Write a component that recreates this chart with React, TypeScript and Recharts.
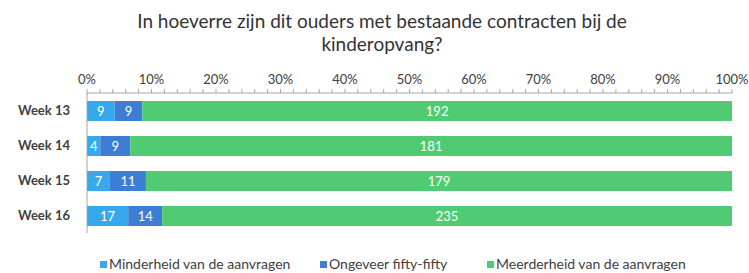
import { BarChart, Bar, XAxis, YAxis, LabelList } from 'recharts';

const WEEKS = ['Week 13', 'Week 14', 'Week 15', 'Week 16'];
const MINDERHEID = [9, 4, 7, 17];
const FIFTY = [9, 9, 11, 14];
const MEERDERHEID = [192, 181, 179, 235];

const SERIES = [
  { key: 'minderheid', name: 'Minderheid van de aanvragen', color: '#35a9ec', left: 100 },
  { key: 'fifty', name: 'Ongeveer fifty-fifty', color: '#3d7dd3', left: 320 },
  { key: 'meerderheid', name: 'Meerderheid van de aanvragen', color: '#50cb74', left: 487 },
];

const TICKS = Array.from({ length: 51 }, (_, i) => i / 50);

const data = WEEKS.map((week, i) => ({
  week,
  minderheid: MINDERHEID[i],
  fifty: FIFTY[i],
  meerderheid: MEERDERHEID[i],
}));

const FONT = 'Lato, "Open Sans", sans-serif';

export default function App() {
  return (
    <div style={{ position: 'absolute', top: 0, left: 0, width: 749, height: 273, background: '#fff' }}>
      <div
        style={{
          position: 'absolute',
          top: 9,
          left: 0,
          width: 764,
          textAlign: 'center',
          fontFamily: FONT,
          fontSize: 19,
          lineHeight: '23px',
          color: '#333',
        }}
      >
        In hoeverre zijn dit ouders met bestaande contracten bij de
        <br />
        kinderopvang?
      </div>
      <BarChart
        width={749}
        height={273}
        data={data}
        layout="vertical"
        stackOffset="expand"
        barSize={20}
        margin={{ top: 63, right: 17, bottom: 40, left: 0 }}
      >
        <XAxis
          type="number"
          orientation="top"
          domain={[0, 1]}
          ticks={TICKS}
          interval={0}
          tickSize={4}
          tickMargin={5}
          stroke="#a6a6a6"
          tick={({ x, y, payload }: any) => {
            const v = Math.round(payload.value * 100);
            if (v % 10 !== 0) return <g />;
            return (
              <text x={x} y={y} textAnchor="middle" fontFamily={FONT} fontSize={13} fill="#404040">
                {v + '%'}
              </text>
            );
          }}
        />
        <YAxis
          type="category"
          dataKey="week"
          width={87}
          tickLine={false}
          stroke="#a6a6a6"
          tickMargin={11}
          tick={{ fontFamily: FONT, fontSize: 13, fontWeight: 700, fill: '#404040' }}
        />
        {SERIES.map((s) => (
          <Bar key={s.key} dataKey={s.key} name={s.name} stackId="a" fill={s.color} isAnimationActive={false}>
            <LabelList dataKey={s.key} position="center" fill="#ffffff" fontFamily={FONT} fontSize={13} />
          </Bar>
        ))}
      </BarChart>
      {SERIES.map((s) => (
        <div
          key={s.key}
          style={{
            position: 'absolute',
            left: s.left,
            top: 255,
            display: 'flex',
            alignItems: 'center',
            fontFamily: FONT,
            fontSize: 14,
            lineHeight: '18px',
            color: '#404040',
            whiteSpace: 'nowrap',
          }}
        >
          <span style={{ width: 7, height: 7, background: s.color, marginRight: 2, display: 'inline-block' }} />
          {s.name}
        </div>
      ))}
    </div>
  );
}
